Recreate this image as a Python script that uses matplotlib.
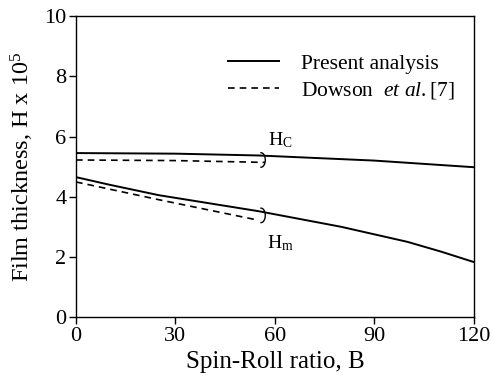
import matplotlib.pyplot as plt
from matplotlib.patches import Arc

plt.rcParams["font.family"] = "Liberation Serif"
plt.rcParams["mathtext.fontset"] = "custom"
plt.rcParams["mathtext.rm"] = "Liberation Serif"
plt.rcParams["mathtext.it"] = "Liberation Serif:italic"

# Central film thickness Hc
hc_b = [0, 30, 55, 90, 120]
hc_present = [5.45, 5.43, 5.37, 5.2, 4.98]
hc_dowson_b = [0, 30, 57]
hc_dowson = [5.22, 5.2, 5.14]

# Minimum film thickness Hm
hm_b = [0, 10, 25, 55, 80, 100, 110, 120]
hm_present = [4.65, 4.4, 4.05, 3.52, 3.0, 2.5, 2.18, 1.83]
hm_dowson_b = [0, 25, 55]
hm_dowson = [4.49, 3.9, 3.22]

x_ticks = [0, 30, 60, 90, 120]
y_ticks = [0, 2, 4, 6, 8, 10]

fig = plt.figure(figsize=(4.92, 3.83), dpi=100)
ax = fig.add_axes([0.1545, 0.172, 0.8085, 0.786])

ax.plot(hc_b, hc_present, color="black", lw=1.4, label="Present analysis")
ax.plot(hc_dowson_b, hc_dowson, color="black", lw=1.2, ls=(0, (4, 3)),
        label=r"Dowson  $\mathit{et\ al.}$[7]")
ax.plot(hm_b, hm_present, color="black", lw=1.4)
ax.plot(hm_dowson_b, hm_dowson, color="black", lw=1.2, ls=(0, (4, 3)))

# small brackets joining the two curves
ax.add_patch(Arc((55.8, 5.22), 2.6, 0.48, theta1=-130, theta2=130, color="black", lw=1))
ax.add_patch(Arc((55.8, 3.38), 2.6, 0.48, theta1=-130, theta2=130, color="black", lw=1))

ax.text(61.5, 5.72, r"H$_{\mathrm{C}}$", fontsize=14, ha="center")
ax.text(61.5, 2.3, r"H$_{\mathrm{m}}$", fontsize=14, ha="center")

ax.set_xlim(0, 120)
ax.set_ylim(0, 10)
ax.set_xticks(x_ticks)
ax.set_yticks(y_ticks)
ax.tick_params(direction="out", length=5, width=1, labelsize=16, pad=2)
for s in ax.spines.values():
    s.set_linewidth(1)

ax.set_xlabel("Spin-Roll ratio, B", fontsize=18, labelpad=4)
ax.set_ylabel(r"Film thickness, H x 10$^5$", fontsize=17.5, labelpad=6)

ax.legend(loc="upper right", bbox_to_anchor=(1.0, 0.94), frameon=False,
          fontsize=15.5, handlelength=2.4, handletextpad=1.0, labelspacing=0.3)

fig.savefig("out.png", dpi=100)
